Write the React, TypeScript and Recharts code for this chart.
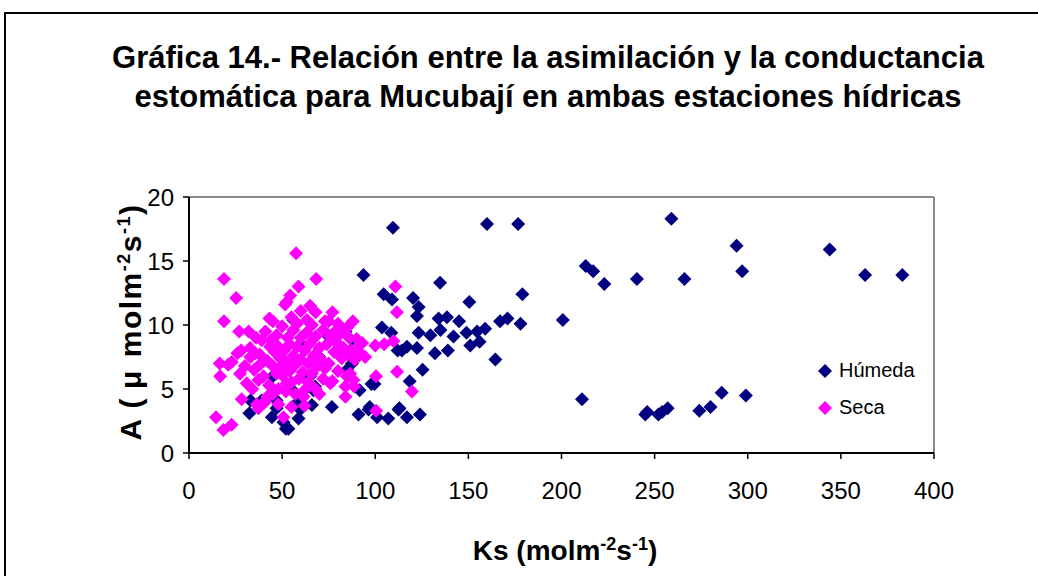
import React from "react";
import { ScatterChart, Scatter, XAxis, YAxis, ReferenceLine } from "recharts";

const xTicks = [0, 50, 100, 150, 200, 250, 300, 350, 400];
const yTicks = [0, 5, 10, 15, 20];

const humedaKs = [
  259, 294, 297, 213, 217, 223, 240.5, 266, 211, 245, 246, 252, 254, 257, 274, 280, 286, 299, 344, 363, 383,
  176.7, 160, 109.5, 179, 167, 171, 178, 200.7, 164.5, 134.8, 104.5, 109, 120.3, 123.3, 122.4, 150.5,
  103.6, 108.6, 123.3, 134, 138.5, 145, 129.6, 135, 142, 149, 154.7, 159, 151, 156, 114.3, 117, 122.4, 132, 139,
  125.4, 118.5, 99.6, 113, 117, 124, 107, 101, 97, 93.7, 112, 91.6, 76.7, 91, 96.4, 112.5,
  32.4, 33, 39, 44.5, 47, 52, 50.7, 58.8, 59.7, 66, 58, 47, 56, 84, 88, 89, 84.8, 66.8, 75, 87.5, 53.4, 67.7, 98,
  60, 70, 65, 80, 55, 45,
];
const humedaA = [
  18.3, 16.2, 14.2, 14.6, 14.2, 13.2, 13.6, 13.6, 4.2, 3.0, 3.2, 3.0, 3.2, 3.5, 3.3, 3.6, 4.7, 4.5, 15.9, 13.9, 13.9,
  17.9, 17.9, 17.6, 12.4, 10.3, 10.5, 10.1, 10.4, 7.3, 13.3, 12.4, 12.0, 12.1, 11.4, 10.7, 11.8,
  9.8, 9.4, 9.4, 10.5, 10.6, 10.3, 9.2, 9.6, 9.1, 9.4, 9.5, 9.7, 8.4, 8.7, 8.0, 8.3, 8.2, 7.8, 8.0,
  6.5, 5.6, 5.4, 3.5, 2.8, 3.0, 2.7, 2.8, 3.6, 13.9, 8.0, 4.9, 3.6, 3.0, 3.4, 3.4,
  3.1, 4.1, 4.1, 2.8, 4.1, 1.9, 2.4, 2.7, 3.4, 3.75, 3.9, 3.5, 10.4, 9.5, 8.2, 7.3, 6.5, 4.9, 9.1, 7.0, 1.9, 5.2, 5.4,
  8.5, 7.5, 6.0, 8.0, 5.0, 6.0,
];

const secaKs = [
  14.5, 18.5, 22.9, 16.7, 16.5, 21, 23, 26, 27.4, 18.8, 25.3, 18.8, 26.9, 28.3, 36.4, 37.3, 40, 40.9, 50.7,
  57.5, 68.3, 58.8, 54.3, 52.5, 51.6, 43.2, 68, 77, 88, 63.3, 73, 78.5, 90, 94.6, 86.5, 88.3, 84, 88.7, 84.8,
  61.5, 55, 75.8, 110.8, 111.6, 100, 104.8, 109.8, 111.7, 100.4, 119.7, 100.5, 52.5, 49, 47, 31, 37.3, 32.8,
  39, 35.5, 43.5, 38,
  33, 35, 36, 38, 40, 41, 42, 43, 44, 45, 46, 47, 48, 48, 49, 50, 50, 51, 52, 52, 53, 54, 54, 55, 56, 56, 57,
  57, 58, 58, 59, 60, 60, 61, 62, 62, 63, 64, 64, 65, 66, 66, 67, 68, 68, 69, 70, 70, 71, 72, 72, 73, 74, 75,
  76, 77, 78, 79, 80, 81, 82, 83, 84, 85, 86, 87, 89, 90, 92, 93, 60, 45, 65, 55, 62, 48, 45, 42, 34, 30, 32,
  28, 75, 80, 85,
];
const secaA = [
  2.8, 1.8, 2.2, 6.0, 7.0, 6.9, 7.1, 7.8, 6.2, 13.6, 12.1, 10.3, 9.5, 4.2, 3.8, 3.5, 3.9, 4.0, 2.8,
  15.6, 13.6, 13.0, 12.3, 11.8, 11.6, 10.5, 11.0, 11.0, 10.3, 10.4, 10.3, 9.5, 8.9, 7.5, 6.2, 5.7, 4.4, 5.2, 6.0,
  4.4, 3.6, 5.45, 13.0, 11.0, 8.4, 8.5, 8.75, 6.35, 6.0, 4.8, 3.3, 5.45, 6.7, 6.2, 5.45, 5.7, 8.2,
  8.8, 7.8, 8.3, 6.9,
  7.5, 6.5, 9.0, 7.7, 6.0, 9.5, 7.2, 5.3, 8.8, 6.8, 7.9, 9.2, 5.0, 8.3, 7.4, 9.9, 6.1, 8.0, 4.8, 7.1, 9.0, 6.4, 8.5, 5.5, 7.6, 9.6, 4.6,
  6.9, 8.3, 10.1, 5.8, 7.3, 9.0, 6.3, 8.0, 4.9, 9.4, 7.0, 5.5, 8.6, 6.2, 10.0, 7.6, 5.0, 9.1, 6.8, 8.2, 4.6, 7.3, 9.6, 5.8, 6.6, 8.5, 7.0,
  9.1, 5.6, 7.9, 8.7, 6.4, 9.3, 7.4, 8.2, 5.2, 7.7, 9.0, 8.0, 7.3, 8.2, 7.8, 8.6, 11.1, 10.3, 11.5, 10.6, 3.7, 3.8, 4.6, 4.4, 5.0, 6.8, 9.5,
  8.0, 10.3, 10.1, 9.8,
];

const humeda = humedaKs.map((x, i) => ({ x, y: humedaA[i] }));
const seca = secaKs.map((x, i) => ({ x, y: secaA[i] }));

const NAVY = "#000080";
const MAGENTA = "#FF00FF";
const FONT = "'Liberation Sans', Arial, sans-serif";

const diamond = (color: string) => (props: any) => {
  const { cx, cy } = props;
  const r = 7;
  return (
    <polygon
      points={`${cx},${cy - r} ${cx + r},${cy} ${cx},${cy + r} ${cx - r},${cy}`}
      fill={color}
    />
  );
};

const supStyle = { fontSize: 18 };

export default function App() {
  return (
    <div
      style={{
        position: "fixed",
        left: 0,
        top: 0,
        width: 1038,
        height: 576,
        overflow: "hidden",
        background: "#fff",
        fontFamily: FONT,
      }}
    >
      <div
        style={{
          position: "absolute",
          left: 4,
          top: 12,
          width: 1100,
          height: 700,
          border: "2px solid #000",
        }}
      />
      <div
        style={{
          position: "absolute",
          left: 0,
          top: 38,
          width: 1096,
          textAlign: "center",
          fontWeight: "bold",
          fontSize: 31,
          lineHeight: "39px",
          color: "#000",
        }}
      >
        Gráfica 14.- Relación entre la asimilación y la conductancia
        <br />
        estomática para Mucubají en ambas estaciones hídricas
      </div>
      <div style={{ position: "absolute", left: 0, top: 0 }}>
        <ScatterChart
          width={1038}
          height={576}
          margin={{ top: 197, right: 104, bottom: 83, left: 139 }}
        >
          <XAxis
            type="number"
            dataKey="x"
            domain={[0, 400]}
            ticks={xTicks}
            interval={0}
            height={40}
            tickSize={6}
            tickMargin={23}
            axisLine={{ stroke: "#000", strokeWidth: 2 }}
            tickLine={{ stroke: "#000", strokeWidth: 1.5 }}
            tick={{ fill: "#000", fontSize: 24, fontFamily: FONT }}
          />
          <YAxis
            type="number"
            dataKey="y"
            domain={[0, 20]}
            ticks={yTicks}
            interval={0}
            width={50}
            tickSize={6}
            tickMargin={9}
            axisLine={{ stroke: "#000", strokeWidth: 2 }}
            tickLine={{ stroke: "#000", strokeWidth: 1.5 }}
            tick={{ fill: "#000", fontSize: 24, fontFamily: FONT }}
          />
          <ReferenceLine y={20} stroke="#666" strokeWidth={1.5} />
          <ReferenceLine x={400} stroke="#666" strokeWidth={1.5} />
          <Scatter
            name="Húmeda"
            data={humeda}
            shape={diamond(NAVY)}
            isAnimationActive={false}
          />
          <Scatter
            name="Seca"
            data={seca}
            shape={diamond(MAGENTA)}
            isAnimationActive={false}
          />
        </ScatterChart>
      </div>
      {/* Legend */}
      <div style={{ position: "absolute", left: 817, top: 352, fontSize: 20, color: "#000" }}>
        {[
          { name: "Húmeda", color: NAVY },
          { name: "Seca", color: MAGENTA },
        ].map((it) => (
          <div key={it.name} style={{ display: "flex", alignItems: "center", height: 37 }}>
            <svg width={16} height={16} style={{ marginRight: 6 }}>
              <polygon points="8,1 15,8 8,15 1,8" fill={it.color} />
            </svg>
            <span>{it.name}</span>
          </div>
        ))}
      </div>
      {/* X label */}
      <div
        style={{
          position: "absolute",
          left: 0,
          width: 1130,
          top: 527,
          textAlign: "center",
          fontWeight: "bold",
          fontSize: 28,
          lineHeight: "34px",
          color: "#000",
        }}
      >
        Ks (molm<sup style={supStyle}>-2</sup>s<sup style={supStyle}>-1</sup>)
      </div>
      {/* Y label */}
      <div
        style={{
          position: "absolute",
          left: 124,
          top: 322,
          width: 340,
          height: 36,
          marginLeft: -170,
          marginTop: -18,
          textAlign: "center",
          transform: "rotate(-90deg)",
          fontWeight: "bold",
          fontSize: 30,
          lineHeight: "36px",
          letterSpacing: 1.5,
          color: "#000",
          whiteSpace: "nowrap",
        }}
      >
        A (<span style={{ margin: "0 12px 0 8px" }}>μ</span>molm<sup style={supStyle}>-2</sup>s
        <sup style={supStyle}>-1</sup>)
      </div>
    </div>
  );
}
